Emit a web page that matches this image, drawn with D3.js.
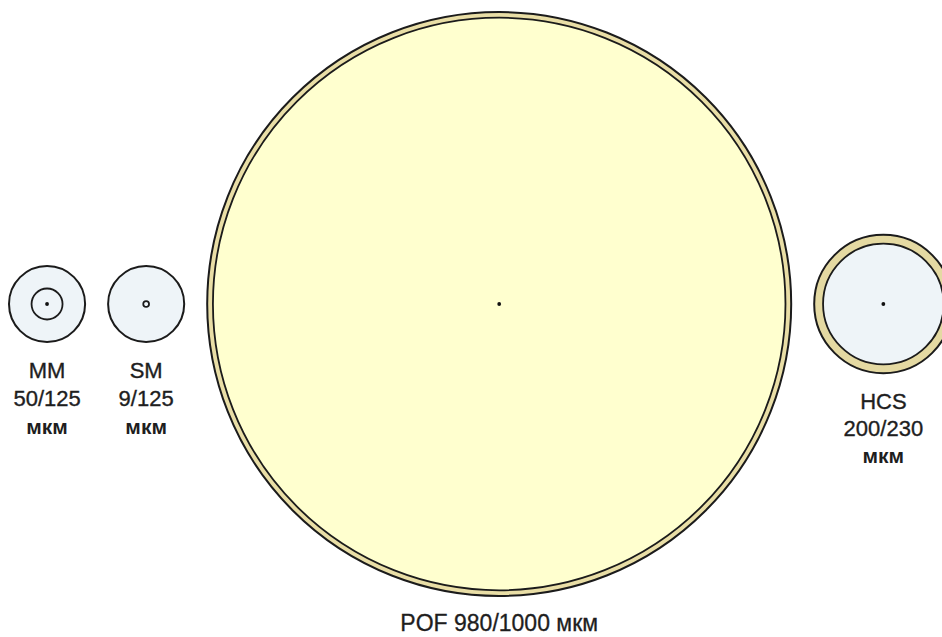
<!DOCTYPE html>
<html>
<head>
<meta charset="utf-8">
<script src="https://cdn.jsdelivr.net/npm/d3@7"></script>
<style>
  html, body { margin: 0; padding: 0; background: #fff; }
  svg { display: block; }
</style>
</head>
<body>
<div id="chart"></div>
<script>
// fibre types, left to right
const names = ["MM", "SM", "POF", "HCS"];
const coreDiam = [50, 9, 980, 200];        // µm
const cladDiam = [125, 125, 1000, 230];    // µm
const cladColor = ["#eef4f8", "#eef4f8", "#e9dea6", "#e4d9a2"];
const coreColor = ["#eef4f8", "#eef4f8", "#ffffcf", "#eef4f8"];
const unit = "мкм";

const width = 942, height = 637;
const centerY = 304;
const gap = 23;     // space between neighbouring fibres
const left = 9;

const svg = d3.select("#chart").append("svg")
    .attr("width", width)
    .attr("height", height);

// diameter in µm -> diameter in px (the drawing is only roughly to scale)
const size = d3.scalePow().exponent(0.98).domain([0, 1000]).range([0, 584]);

// lay the fibres out edge to edge
let cursor = left;
const fibres = names.map((name, i) => {
    const r = size(cladDiam[i]) / 2;
    const f = {
        name, i,
        cx: cursor + r,
        r,
        rc: size(coreDiam[i]) / 2,
        core: coreDiam[i],
        clad: cladDiam[i]
    };
    cursor += 2 * r + gap;
    return f;
});

const g = svg.selectAll("g.fibre")
    .data(fibres)
    .join("g")
    .attr("class", "fibre")
    .attr("transform", d => `translate(${d.cx},${centerY})`);

g.append("circle")
    .attr("r", d => d.r)
    .attr("fill", d => cladColor[d.i])
    .attr("stroke", "#1b1b1b")
    .attr("stroke-width", 2);

g.append("circle")
    .attr("r", d => d.rc)
    .attr("fill", d => coreColor[d.i])
    .attr("stroke", "#1b1b1b")
    .attr("stroke-width", 1.8);

g.filter(d => d.rc > 5).append("circle")
    .attr("r", 1.9)
    .attr("fill", "#111");

const font = "'Liberation Sans', Arial, sans-serif";
const ink = "#1e1e1e";

// three-line labels for the small fibres, one line for POF
g.each(function(d) {
    const sel = d3.select(this);
    const y0 = d.r + 36;
    if (d.name === "POF") {
        sel.append("text")
            .attr("y", y0 - 1)
            .attr("text-anchor", "middle")
            .attr("font-family", font)
            .attr("font-size", 23)
            .attr("fill", ink)
            .attr("stroke", ink)
            .attr("stroke-width", 0.3)
            .text(`${d.name} ${d.core}/${d.clad} ${unit}`);
        return;
    }
    const step = d.name === "HCS" ? 27 : 28;
    const lines = [d.name, `${d.core}/${d.clad}`, unit];
    sel.selectAll("text")
        .data(lines)
        .join("text")
        .attr("y", (t, k) => y0 + k * step)
        .attr("text-anchor", "middle")
        .attr("font-family", font)
        .attr("font-size", (t, k) => k === 2 ? 21 : 22)
        .attr("font-weight", (t, k) => k === 2 ? "bold" : "normal")
        .attr("fill", ink)
        .attr("stroke", ink)
        .attr("stroke-width", (t, k) => k === 2 ? 0 : 0.35)
        .text(t => t);
});
</script>
</body>
</html>
